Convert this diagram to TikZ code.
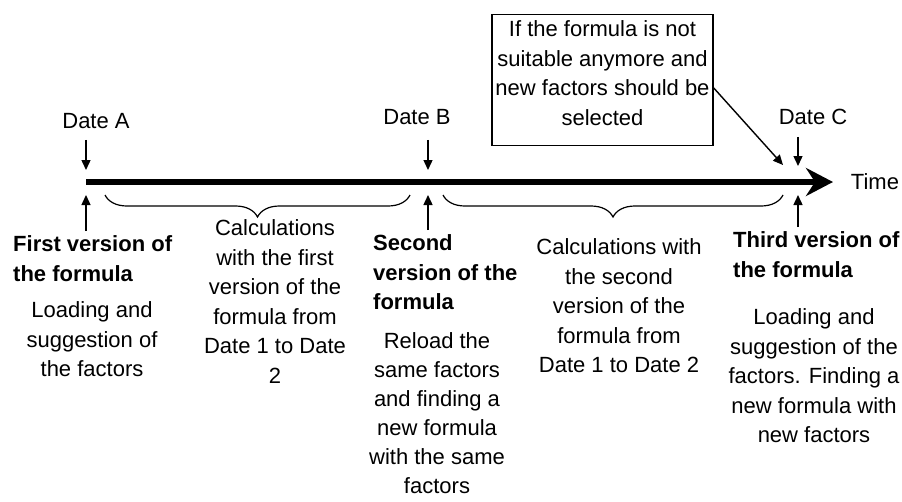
\documentclass[tikz,border=0pt]{standalone}
\usepackage{fontspec}
\setmainfont{Liberation Sans}
\usetikzlibrary{arrows.meta,decorations.pathreplacing}
\newcommand\myfs{\fontsize{22}{29.5}\selectfont}
\newcommand\myfsb{\fontsize{22}{29}\selectfont}
\tikzset{
  txt/.style={font=\myfs, inner sep=0pt, align=center, anchor=north},
  hd/.style={font=\myfs\bfseries, inner sep=0pt, align=left, anchor=north west},
  lbl/.style={font=\myfs, inner sep=0pt},
  sarrow/.style={line width=1.4pt, -{Triangle[length=10pt,width=9pt]}},
  bigarrow/.style={line width=6pt, -{Stealth[length=27pt,width=28pt,inset=9pt]}},
  brc/.style={line width=1.2pt, decorate, decoration={brace, mirror, amplitude=22pt}},
  note/.style={draw, line width=1.1pt, font=\myfs, align=center, inner xsep=2pt, inner ysep=0pt,
               minimum width=221pt, minimum height=130pt}
}
\begin{document}
\begin{tikzpicture}[x=1pt,y=-1pt]
\useasboundingbox (0,0) rectangle (902,501);
% timeline
\coordinate (t0) at (86,182);
\coordinate (t1) at (833,182);
\draw[bigarrow] (t0) -- (t1);
\node[lbl, anchor=center] (time) at (875,182) {Time};
% points on the timeline
\coordinate (dAe) at (86,170);
\coordinate (dBe) at (428,170);
\coordinate (dCe) at (798,166);
\coordinate (uA) at (86,195);
\coordinate (uB) at (428,195);
\coordinate (uC) at (798,195);
% date labels
\node[lbl] (dA) at (96,121) {Date A};
\node[lbl] (dB) at (417,117) {Date B};
\node[lbl] (dC) at (813,117) {Date C};
\draw[sarrow, shorten <=11pt] (dA.south -| dAe) -- (dAe);
\draw[sarrow, shorten <=15pt] (dB.south -| dBe) -- (dBe);
\draw[sarrow, shorten <=12pt] (dC.south -| dCe) -- (dCe);
% headings
\node[hd] (hA) at (13,231) {\strut First version of\\the formula};
\node[hd] (hB) at (373,230) {\strut Second\\version of the\\formula};
\node[hd] (hC) at (733,227) {\strut Third version of\\the formula};
\draw[sarrow] (hA.north -| uA) -- (uA);
\draw[sarrow] (hB.north -| uB) -- (uB);
\draw[sarrow] (hC.north -| uC) -- (uC);
% bodies
\node[txt] (bA) at (92,297) {\strut Loading and\\suggestion of\\the factors};
\node[txt, font=\myfsb] (bB) at (437,328) {\strut Reload the\\same factors\\and finding a\\new formula\\with the same\\factors};
\node[txt] (bC) at (814,304) {\strut Loading and\\suggestion of the\\factors. Finding a\\new formula with\\new factors};
% braces and calculation texts
\coordinate (b1s) at (105,195);
\coordinate (b1e) at (410,195);
\coordinate (b2s) at (443,195);
\coordinate (b2e) at (783,195);
\draw[brc] (b1s) -- (b1e);
\draw[brc] (b2s) -- (b2e);
\node[txt] (c1) at (275,215) {\strut Calculations\\with the first\\version of the\\formula from\\Date 1 to Date\\2};
\node[txt] (c2) at (619,234) {\strut Calculations with\\the second\\version of the\\formula from\\Date 1 to Date 2};
% note box
\node[note] (box) at (602.5,80) {\rule{0pt}{22pt}If the formula is not\\suitable anymore and\\new factors should be\\selected\rule[-20pt]{0pt}{0pt}};
\coordinate (dg) at (783,165);
\draw[sarrow] (box.-4) -- (dg);
\end{tikzpicture}
\end{document}
